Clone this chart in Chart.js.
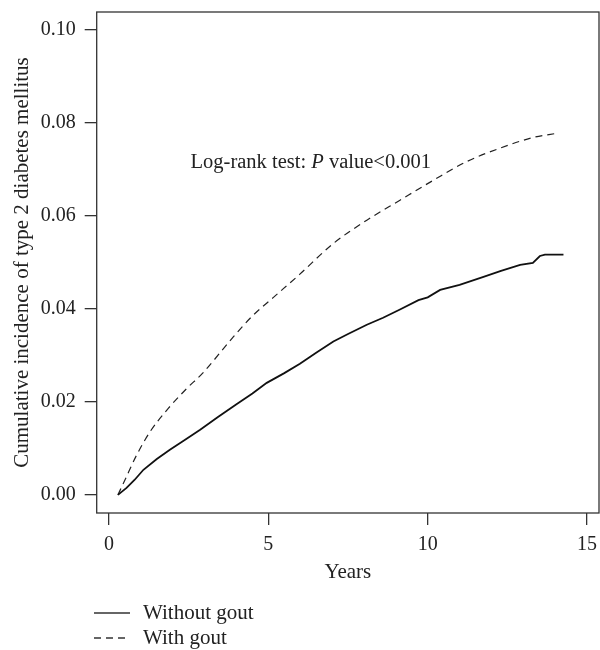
<!DOCTYPE html>
<html>
<head>
<meta charset="utf-8">
<script src="https://cdn.jsdelivr.net/npm/chart.js@4"></script>
<style>
  body { margin: 0; background: #fff; }
  canvas { display: block; }
</style>
</head>
<body>
<canvas id="myChart" width="600" height="650"></canvas>
<script>
'use strict';

let withoutYears = [0.28, 0.55, 0.8, 1.08, 1.5, 1.91, 2.4, 2.86, 3.43, 4.0, 4.5, 4.95, 5.5, 5.99, 6.5, 7.04, 7.5, 8.09, 8.6, 9.13, 9.71, 10.0, 10.39, 11.0, 11.75, 12.3, 12.9, 13.3, 13.52, 13.68, 14.26];
let withoutGout = [0, 0.0015, 0.0032, 0.0054, 0.0077, 0.0097, 0.0119, 0.014, 0.0168, 0.0195, 0.0218, 0.0241, 0.0262, 0.0282, 0.0306, 0.033, 0.0346, 0.0366, 0.0381, 0.0399, 0.0419, 0.0425, 0.0441, 0.0452, 0.0469, 0.0482, 0.0495, 0.0499, 0.0514, 0.0517, 0.0517];

let withYears = [0.28, 0.5, 0.87, 1.29, 1.86, 2.44, 2.94, 3.9, 4.5, 5.16, 5.99, 7.04, 8.09, 9.13, 10.18, 11.22, 12.27, 13.31, 14.05];
let withGout = [0, 0.0032, 0.0086, 0.0136, 0.0186, 0.0229, 0.0262, 0.034, 0.0385, 0.0425, 0.0475, 0.0541, 0.0591, 0.0634, 0.0677, 0.0717, 0.0746, 0.0769, 0.0778];

let xTicks = [0, 5, 10, 15];
let yTicks = [0, 0.02, 0.04, 0.06, 0.08, 0.10];
let seriesNames = ['Without gout', 'With gout'];

const fontFamily = '"Liberation Serif", "DejaVu Serif", serif';
const ink = '#222';

function toPoints(xs, ys) {
    let pts = [];
    for (let i = 0; i < xs.length; i++) {
        pts.push({ x: xs[i], y: ys[i] });
    }
    return pts;
}

// box round the plot, the log-rank note and the legend under the axis
const extras = {
    id: 'extras',
    afterDatasetsDraw(chart) {
        const ctx = chart.ctx;
        const area = chart.chartArea;
        const xs = chart.scales.x;
        const ys = chart.scales.y;
        ctx.save();
        ctx.strokeStyle = '#333';
        ctx.lineWidth = 1.3;
        ctx.strokeRect(area.left, area.top, area.right - area.left, area.bottom - area.top);

        ctx.fillStyle = ink;
        ctx.textBaseline = 'middle';
        ctx.textAlign = 'left';
        let tx = xs.getPixelForValue(2.56);
        let ty = ys.getPixelForValue(0.0716);
        let parts = [['Log-rank test: ', ''], ['P', 'italic '], [' value<0.001', '']];
        for (let p of parts) {
            ctx.font = p[1] + '20.5px ' + fontFamily;
            ctx.fillText(p[0], tx, ty);
            tx += ctx.measureText(p[0]).width;
        }

        let rows = [613, 638];
        let dashes = [[], [7, 5]];
        for (let i = 0; i < seriesNames.length; i++) {
            ctx.beginPath();
            ctx.setLineDash(dashes[i]);
            ctx.lineWidth = 1.3;
            ctx.strokeStyle = '#333';
            ctx.moveTo(94, rows[i]);
            ctx.lineTo(130, rows[i]);
            ctx.stroke();
            ctx.setLineDash([]);
            ctx.font = '21px ' + fontFamily;
            ctx.fillText(seriesNames[i], 143, rows[i]);
        }
        ctx.restore();
    }
};

const ctx = document.getElementById('myChart').getContext('2d');
const myChart = new Chart(ctx, {
    type: 'line',
    data: {
        datasets: [{
            label: seriesNames[0],
            data: toPoints(withoutYears, withoutGout),
            borderColor: '#111',
            borderWidth: 1.8,
            pointRadius: 0,
            tension: 0,
            fill: false
        },
        {
            label: seriesNames[1],
            data: toPoints(withYears, withGout),
            borderColor: '#222',
            borderWidth: 1.2,
            borderDash: [7, 5],
            pointRadius: 0,
            cubicInterpolationMode: 'monotone',
            fill: false
        }]
    },
    options: {
        responsive: false,
        animation: false,
        layout: { padding: { left: 0, right: 1, top: 12, bottom: 57 } },
        plugins: {
            legend: { display: false },
            tooltip: { enabled: false }
        },
        scales: {
            x: {
                type: 'linear',
                min: -0.386,
                max: 15.375,
                afterBuildTicks: (scale) => { scale.ticks = xTicks.map(v => ({ value: v })); },
                afterFit: (scale) => {
                    scale.height = 80;
                    scale.paddingLeft = 0;
                    scale.paddingRight = 0;
                },
                border: { display: false },
                grid: { drawOnChartArea: false, drawTicks: true, tickLength: 12, color: '#333', lineWidth: 1.3 },
                ticks: { color: ink, padding: 8, maxRotation: 0, font: { family: fontFamily, size: 20 } },
                title: { display: true, text: 'Years', color: ink, padding: { top: 0, bottom: 8 }, font: { family: fontFamily, size: 21 } }
            },
            y: {
                type: 'linear',
                min: -0.0039,
                max: 0.1039,
                afterBuildTicks: (scale) => { scale.ticks = yTicks.map(v => ({ value: v })); },
                afterFit: (scale) => {
                    scale.width = 96.7;
                    scale.paddingTop = 0;
                    scale.paddingBottom = 0;
                },
                border: { display: false },
                grid: { drawOnChartArea: false, drawTicks: true, tickLength: 12, color: '#333', lineWidth: 1.3 },
                ticks: {
                    color: ink,
                    padding: 9,
                    font: { family: fontFamily, size: 20 },
                    callback: (v) => v.toFixed(2)
                },
                title: { display: true, text: 'Cumulative incidence of type 2 diabetes mellitus', color: ink, padding: { top: 9.4, bottom: 0 }, font: { family: fontFamily, size: 21 } }
            }
        }
    },
    plugins: [extras]
});
</script>
</body>
</html>
